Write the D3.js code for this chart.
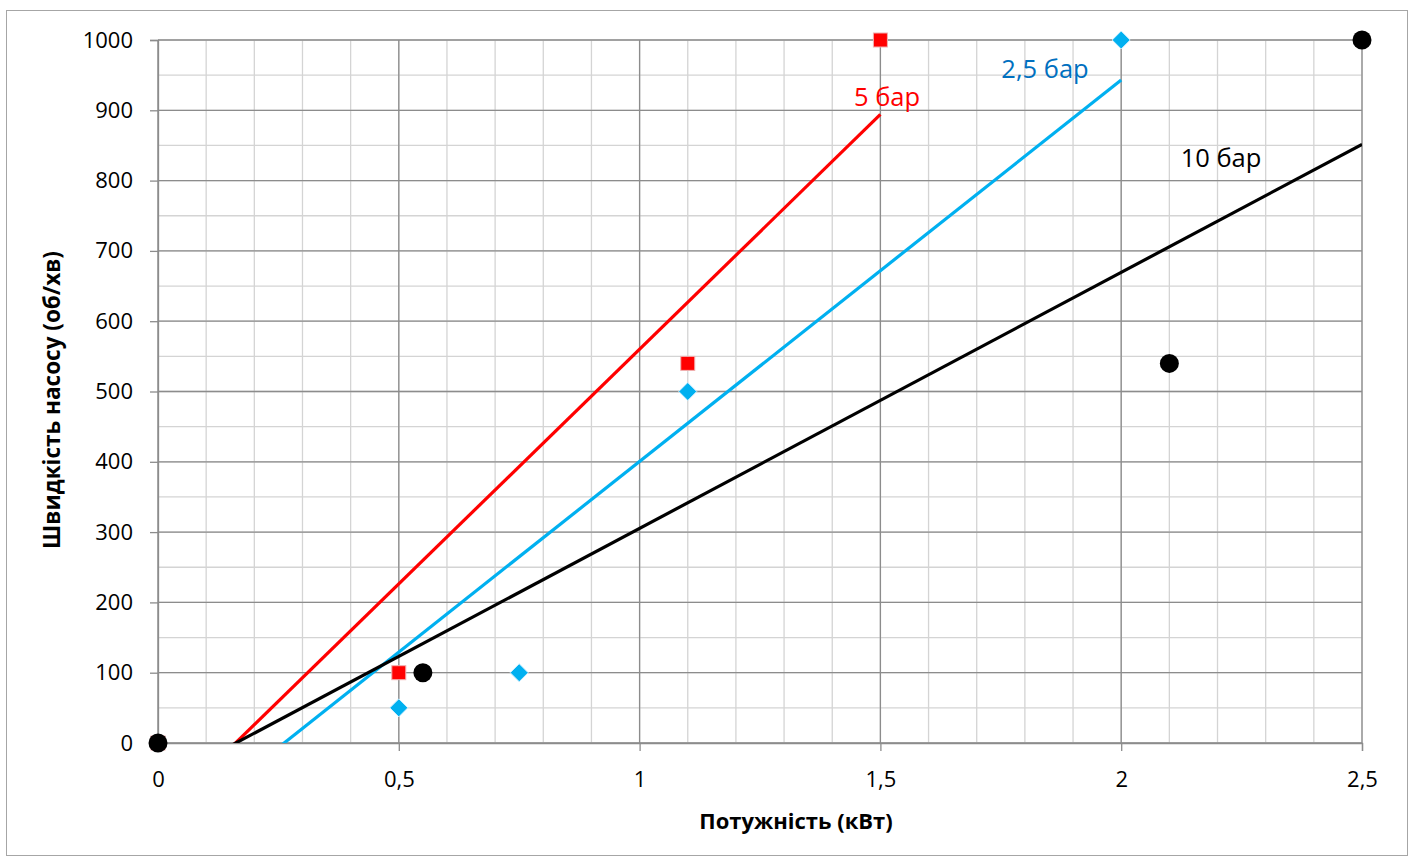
<!DOCTYPE html>
<html><head><meta charset="utf-8">
<script src="https://cdn.jsdelivr.net/npm/d3@7"></script>
<style>body{margin:0;background:#fff;} text{font-family:"Open Sans","Noto Sans",sans-serif;}</style>
</head><body>
<svg id="c" width="1413" height="860"></svg>
<script>
const xTicks = [0, 0.5, 1, 1.5, 2, 2.5];
const xTickLabels = ["0", "0,5", "1", "1,5", "2", "2,5"];
const yTicks = [0, 100, 200, 300, 400, 500, 600, 700, 800, 900, 1000];
const yTickLabels = ["0", "100", "200", "300", "400", "500", "600", "700", "800", "900", "1000"];
const seriesNames = ["2,5 бар", "5 бар", "10 бар"];
const x25 = [0, 0.5, 0.75, 1.1, 2];
const y25 = [0, 50, 100, 500, 1000];
const x5 = [0, 0.5, 1.1, 1.5];
const y5 = [0, 100, 540, 1000];
const x10 = [0, 0.55, 2.1, 2.5];
const y10 = [0, 100, 540, 1000];

const series = [
  {name: seriesNames[0], xs: x25, ys: y25, color: "#00B0F0", labelColor: "#0070C0", marker: "diamond", label: [1045, 78]},
  {name: seriesNames[1], xs: x5, ys: y5, color: "#FF0000", labelColor: "#FF0000", marker: "square", label: [887, 106]},
  {name: seriesNames[2], xs: x10, ys: y10, color: "#000000", labelColor: "#000000", marker: "circle", label: [1221, 167]}
];

const svg = d3.select("#c");
const L = 158, R = 1362, T = 40, B = 743;
const x = d3.scaleLinear().domain([0, 2.5]).range([L, R]);
const y = d3.scaleLinear().domain([0, 1000]).range([B, T]);

// outer border
svg.append("rect").attr("x", 6.5).attr("y", 10.5).attr("width", 1401).attr("height", 845)
  .attr("fill", "none").attr("stroke", "#a6a6a6").attr("stroke-width", 1);

// minor grid
const g = svg.append("g");
d3.range(0, 2.5001, 0.1).forEach(v => {
  g.append("line").attr("x1", x(v)).attr("x2", x(v)).attr("y1", T).attr("y2", B)
    .attr("stroke", "#d4d4d4").attr("stroke-width", 1.3);
});
d3.range(0, 1000.01, 50).forEach(v => {
  g.append("line").attr("x1", L).attr("x2", R).attr("y1", y(v)).attr("y2", y(v))
    .attr("stroke", "#d4d4d4").attr("stroke-width", 1.3);
});
// major grid
xTicks.forEach(v => {
  g.append("line").attr("x1", x(v)).attr("x2", x(v)).attr("y1", T).attr("y2", B)
    .attr("stroke", "#8c8c8c").attr("stroke-width", 1.3);
});
yTicks.forEach(v => {
  g.append("line").attr("x1", L).attr("x2", R).attr("y1", y(v)).attr("y2", y(v))
    .attr("stroke", "#8c8c8c").attr("stroke-width", 1.3);
});

// axes
const xAxis = d3.axisBottom(x).tickValues(xTicks).tickFormat((d, i) => xTickLabels[i]).tickSize(8).tickPadding(19);
const yAxis = d3.axisLeft(y).tickValues(yTicks).tickFormat((d, i) => yTickLabels[i]).tickSize(8).tickPadding(17);
const gx = svg.append("g").attr("transform", `translate(0,${B})`).call(xAxis);
const gy = svg.append("g").attr("transform", `translate(${L},0)`).call(yAxis);
[gx, gy].forEach(a => {
  a.select(".domain").attr("stroke", "#8c8c8c").attr("stroke-width", 1.3);
  a.selectAll(".tick line").attr("stroke", "#8c8c8c").attr("stroke-width", 1.3);
  a.selectAll(".tick text").attr("font-size", 22).attr("fill", "#000")
    .style("font-family", '"Open Sans","Noto Sans",sans-serif');
});
gx.selectAll(".tick text").attr("dy", "0.75em");

// axis titles
svg.append("text").attr("x", 796).attr("y", 829).attr("text-anchor", "middle")
  .attr("font-size", 22).attr("font-weight", "bold").text("Потужність (кВт)");
svg.append("text").attr("transform", "translate(60,400) rotate(-90)").attr("text-anchor", "middle")
  .attr("font-size", 22.5).attr("font-weight", "bold").text("Швидкість насосу (об/хв)");

// clip
svg.append("clipPath").attr("id", "clip").append("rect").attr("x", L).attr("y", T).attr("width", R - L).attr("height", B - T);

// trendlines (least squares)
function fit(xs, ys) {
  const mx = d3.mean(xs), my = d3.mean(ys);
  let sxy = 0, sxx = 0;
  xs.forEach((v, i) => { sxy += (v - mx) * (ys[i] - my); sxx += (v - mx) * (v - mx); });
  const m = sxy / sxx; return {m, b: my - m * mx};
}
const tl = svg.append("g").attr("clip-path", "url(#clip)");
series.forEach(s => {
  const f = fit(s.xs, s.ys);
  const x0 = d3.min(s.xs), x1 = d3.max(s.xs);
  tl.append("line").attr("x1", x(x0)).attr("y1", y(f.m * x0 + f.b))
    .attr("x2", x(x1)).attr("y2", y(f.m * x1 + f.b))
    .attr("stroke", s.color).attr("stroke-width", 3.2);
});

// markers
const mk = svg.append("g");
series.forEach(s => {
  s.xs.forEach((xv, i) => {
    const px = x(xv), py = y(s.ys[i]);
    if (s.marker === "square") {
      mk.append("rect").attr("x", px - 7).attr("y", py - 7).attr("width", 14).attr("height", 14)
        .attr("fill", "#FF0000").attr("stroke", "#f0b0b0").attr("stroke-width", 1);
    } else if (s.marker === "diamond") {
      mk.append("path").attr("d", `M${px},${py - 9}L${px + 9},${py}L${px},${py + 9}L${px - 9},${py}Z`)
        .attr("fill", "#00B0F0").attr("stroke", "#cfefff").attr("stroke-width", 1);
    } else {
      mk.append("circle").attr("cx", px).attr("cy", py).attr("r", 9.5).attr("fill", "#000");
    }
  });
});

// series labels
series.forEach(s => {
  svg.append("text").attr("x", s.label[0]).attr("y", s.label[1]).attr("text-anchor", "middle")
    .attr("font-size", 25.5).attr("fill", s.labelColor).text(s.name);
});
</script>
</body></html>
